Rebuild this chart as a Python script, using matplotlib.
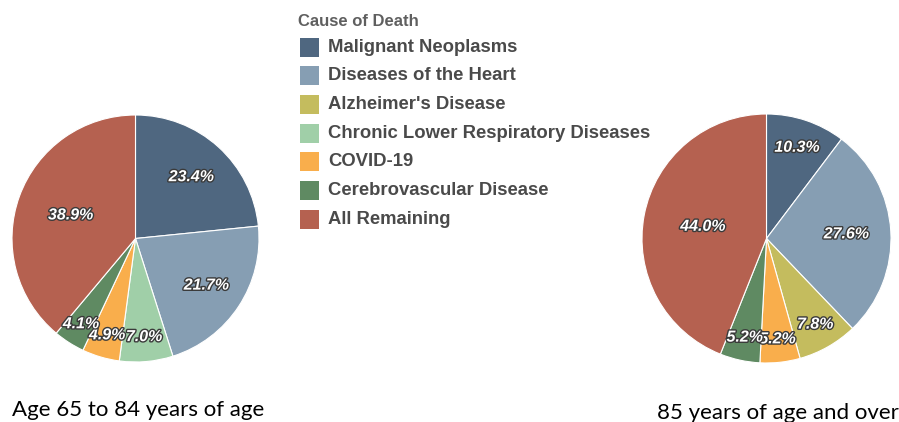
import numpy as np
import matplotlib.pyplot as plt
import matplotlib.patheffects as pe
from matplotlib.patches import Rectangle

# Data
causes = ['Malignant Neoplasms', 'Diseases of the Heart', "Alzheimer's Disease",
          'Chronic Lower Respiratory Diseases', 'COVID-19',
          'Cerebrovascular Disease', 'All Remaining']
colors = ['#4F6780', '#869EB3', '#C4BC5E', '#A0CFA8', '#F9AE4C', '#5F8A62', '#B56150']
age_65_84 = [23.4, 21.7, 0.0, 7.0, 4.9, 4.1, 38.9]
age_85_over = [10.3, 27.6, 7.8, 0.0, 5.2, 5.2, 44.0]
captions = ['Age 65 to 84 years of age', '85 years of age and over']

W, H = 899, 422
fig = plt.figure(figsize=(W / 100, H / 100), dpi=100)

label_fx = [pe.withStroke(linewidth=2, foreground='#3a3a3a')]


def draw_pie(values, cx, cy, r):
    # axes placed in pixel units so the pie sits where it does in the reference
    ax = fig.add_axes([(cx - r) / W, (H - cy - r) / H, 2 * r / W, 2 * r / H])
    vals = [v for v in values if v > 0]
    cols = [c for v, c in zip(values, colors) if v > 0]
    wedges, _ = ax.pie(vals, colors=cols, startangle=90, counterclock=False,
                       radius=1, wedgeprops=dict(edgecolor='white', linewidth=0.8))
    # small slices get their label nearer the rim, big ones nearer the centre
    for w, v in zip(wedges, vals):
        mid = np.deg2rad((w.theta1 + w.theta2) / 2)
        d = 0.85 - 0.0075 * v
        ax.text(d * np.cos(mid), d * np.sin(mid), f'{v:.1f}%', ha='center',
                va='center', color='white', fontsize=11.5, fontweight='bold',
                fontstyle='italic', family='Liberation Sans',
                path_effects=label_fx)
    ax.set_xlim(-1, 1)
    ax.set_ylim(-1, 1)
    ax.axis('off')
    return ax


draw_pie(age_65_84, 135.5, 238.5, 123.5)
draw_pie(age_85_over, 766.5, 238.5, 124.5)

# Legend
fig.text(298 / W, 1 - 22 / H, 'Cause of Death', fontsize=12, fontweight='bold',
         color='#5f5f5f', family='Liberation Sans', va='center', ha='left')
for i, (name, col) in enumerate(zip(causes, colors)):
    y = 47 + i * 28.7
    fig.patches.append(Rectangle((300 / W, 1 - (y + 9.5) / H), 19 / W, 19 / H,
                                 transform=fig.transFigure, facecolor=col,
                                 edgecolor='none'))
    fig.text(328 / W, 1 - y / H, name, fontsize=13.3, fontweight='bold',
             color='#4a4a4a', family='Liberation Sans', va='center', ha='left')

# Captions under the pies
fig.text(12 / W, 1 - 410 / H, captions[0], fontsize=16, family='Lato',
         color='black', va='center', ha='left')
fig.text(657 / W, 1 - 413 / H, captions[1], fontsize=16, family='Lato',
         color='black', va='center', ha='left')

fig.savefig('out.png', dpi=100)
